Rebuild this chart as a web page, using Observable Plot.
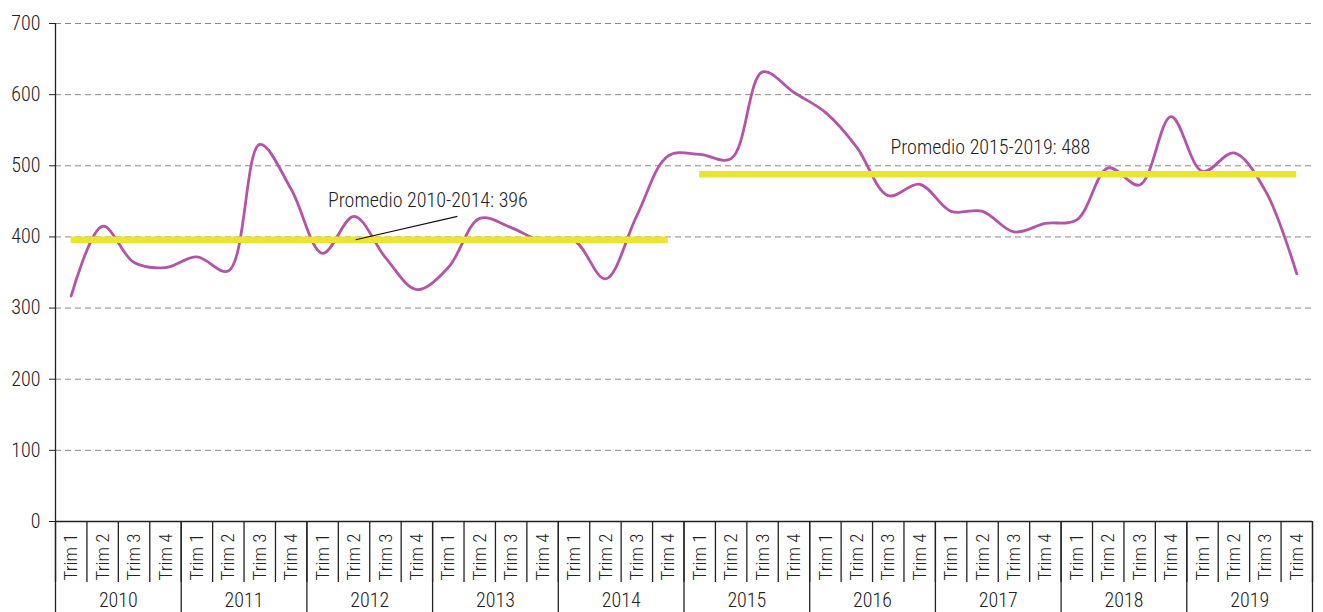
<!DOCTYPE html>
<html>
<head>
<meta charset="utf-8">
<script src="https://cdn.jsdelivr.net/npm/d3@7"></script>
<script src="https://cdn.jsdelivr.net/npm/@observablehq/plot@0.6"></script>
<style>
  html, body { margin: 0; padding: 0; background: #fff; }
  #chart { width: 1323px; height: 612px; }
  #chart svg text { font-weight: 300; }
</style>
</head>
<body>
<div id="chart"></div>
<script>
// ---- data ----
const years = ["2010","2011","2012","2013","2014","2015","2016","2017","2018","2019"];
const quarterLabels = ["Trim 1","Trim 2","Trim 3","Trim 4"];
const values = [
  317, 415, 364, 357,   // 2010
  372, 352, 530, 467,   // 2011
  377, 429, 371, 326,   // 2012
  357, 426, 413, 394,   // 2013
  395, 341, 430, 514,   // 2014
  516, 510, 632, 603,   // 2015
  575, 526, 458, 474,   // 2016
  436, 436, 407, 419,   // 2017
  424, 497, 473, 569,   // 2018
  492, 518, 465, 348    // 2019
];
const yTicks = [0, 100, 200, 300, 400, 500, 600, 700];
const averages = [
  {label: "Promedio 2010-2014: 396", value: 396, from: 0, to: 19},
  {label: "Promedio 2015-2019: 488", value: 488, from: 20, to: 39}
];
// annotation anchors (data coordinates: quarter index, value)
const notes = [
  {text: averages[0].label, x: 11.35, y: 451},
  {text: averages[1].label, x: 29.25, y: 526}
];
const leader = [{x1: 9.05, y1: 396, x2: 12.29, y2: 429}];

// ---- derived tables ----
const series = values.map((v, i) => ({i, v}));
const avgSegments = averages.map(a => ({x1: a.from, x2: a.to, y: a.value}));
const quarterTicks = d3.range(values.length);
const boundaries = d3.range(values.length + 1).map(k => k - 0.5);
const yearBoundaries = d3.range(years.length + 1).map(k => k * 4 - 0.5);
const yearCenters = years.map((y, k) => k * 4 + 1.5);

const font = "'Roboto Condensed', 'Liberation Sans Narrow', 'DejaVu Sans Condensed', 'Arial Narrow', Roboto, sans-serif";

const chart = Plot.plot({
  width: 1323,
  height: 612,
  marginLeft: 55,
  marginRight: 11,
  marginTop: 23,
  marginBottom: 91,
  style: {fontFamily: font, fontSize: "19px", color: "#222", background: "#fff", overflow: "visible"},
  x: {type: "linear", domain: [-0.5, values.length - 0.5], label: null, axis: null},
  y: {domain: [0, 700], label: null, axis: null},
  marks: [
    Plot.gridY(yTicks.filter(t => t > 0), {stroke: "#8a8a8a", strokeOpacity: 1, strokeDasharray: "6,4", strokeWidth: 1}),
    Plot.axisY({ticks: yTicks, tickSize: 6, tickPadding: 9, fontSize: 20, label: null, stroke: "#222"}),
    // x axis: quarter separators, year separators, labels
    Plot.axisX({ticks: boundaries, tickSize: 61, tickFormat: () => "", label: null, stroke: "#222", strokeWidth: 1.3}),
    Plot.axisX({ticks: yearBoundaries, tickSize: 91, tickFormat: () => "", label: null, stroke: "#222", strokeWidth: 1.3}),
    Plot.axisX({ticks: quarterTicks, tickSize: 0, tickPadding: 12, tickRotate: -90, textAnchor: "end",
      tickFormat: i => quarterLabels[i % 4], fontSize: 19, label: null}),
    Plot.axisX({ticks: yearCenters, tickSize: 0, tickPadding: 71,
      tickFormat: c => years[(c - 1.5) / 4], fontSize: 20, label: null}),
    Plot.ruleX([-0.5], {y1: 0, y2: 700, stroke: "#222", strokeWidth: 1.3}),
    Plot.ruleY([0], {stroke: "#222", strokeWidth: 1.3}),
    // series
    Plot.line(series, {x: "i", y: "v", stroke: "#b553a9", strokeWidth: 2.8, curve: "catmull-rom"}),
    // average lines
    Plot.ruleY(avgSegments, {y: "y", x1: "x1", x2: "x2", stroke: "#ebe62b", strokeWidth: 6.5}),
    // annotations
    Plot.link(leader, {x1: "x1", y1: "y1", x2: "x2", y2: "y2", stroke: "#111", strokeWidth: 1.2}),
    Plot.text(notes, {x: "x", y: "y", text: "text", fontSize: 20, fill: "#222"})
  ]
});
document.getElementById("chart").appendChild(chart);
</script>
</body>
</html>
